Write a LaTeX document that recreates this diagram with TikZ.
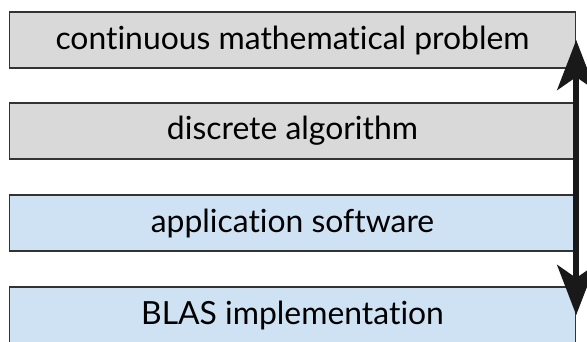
\documentclass[tikz,border=0pt]{standalone}
\usepackage{fontspec}
\setmainfont{Lato}[Ligatures=NoCommon]
\usetikzlibrary{arrows.meta,positioning,calc}
\definecolor{layergray}{HTML}{D9D9D9}
\definecolor{layerblue}{HTML}{CFE2F3}
\begin{document}
\begin{tikzpicture}[x=1bp,y=1bp,
				layer/.style={rectangle,draw=black!80,line width=1.4bp,minimum width=566bp,minimum height=56bp,inner sep=0pt,font=\fontsize{32}{38}\selectfont},
				math/.style={layer,fill=layergray},
				soft/.style={layer,fill=layerblue},
				twoway/.style={{Stealth[length=50bp,width=38bp,inset=13bp]}-{Stealth[length=50bp,width=38bp,inset=13bp]},line width=6bp,black!90}
				]
				\useasboundingbox (0,0) rectangle (587,341);
				\node[math] (cont) at (292.5,301) {continuous mathematical problem};
				\node[math] (alg)  at (292.5,210) {discrete algorithm};
				\node[soft] (app)  at (292.5,118) {application software};
				\node[soft] (blas) at (292.5,26) {BLAS implementation};
				
				\draw[twoway] (blas.east) -- (cont.east);
			\end{tikzpicture}
\end{document}
